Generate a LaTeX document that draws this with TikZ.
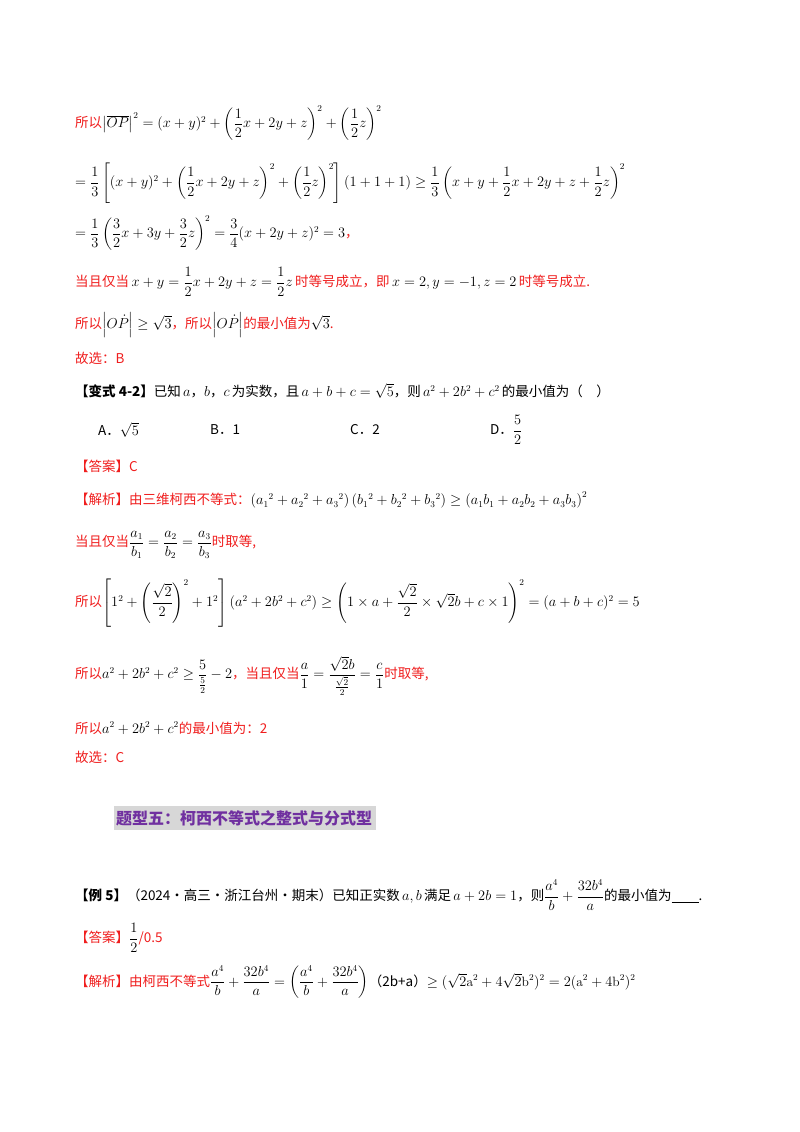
\documentclass[tikz,border=0pt]{standalone}
\usepackage{amsmath,amssymb}
\usepackage{fontspec}
\newfontfamily\cjk{Noto Sans CJK SC}
\definecolor{rd}{RGB}{240,30,30}
\definecolor{pur}{RGB}{112,48,160}
\definecolor{hbg}{RGB}{215,215,215}
\begin{document}
\begin{tikzpicture}[x=1pt,y=-1pt,
  ln/.style={anchor=west,inner sep=0pt,font=\fontsize{13.5}{15}\selectfont},
  r/.style={ln,text=rd}]
\useasboundingbox[fill=white] (0,0) rectangle (800,1132);
\node[r] (l1) at (75,123) {\cjk 所以\color{black}$\left|\overline{OP}\right|^2=(x+y)^2+\left(\dfrac12x+2y+z\right)^2+\left(\dfrac12z\right)^2$};
\node[ln] (l2) at (75,183) {$=\dfrac13\left[(x+y)^2+\left(\dfrac12x+2y+z\right)^2+\left(\dfrac12z\right)^2\right](1+1+1)\geq\dfrac13\left(x+y+\dfrac12x+2y+z+\dfrac12z\right)^2$};
\node[ln] (l3) at (75,233) {$=\dfrac13\left(\dfrac32x+3y+\dfrac32z\right)^2=\dfrac34(x+2y+z)^2=3$\textcolor{rd}{\cjk ，}};
\node[r] (l4) at (75,282) {\cjk 当且仅当\color{black}$\,x+y=\dfrac12x+2y+z=\dfrac12z\,$\color{rd}时等号成立，即\color{black}$\,x=2,y=-1,z=2\,$\color{rd}时等号成立.};
\node[r] (l5) at (75,325) {\cjk 所以\color{black}$\left|O\dot P\right|\geq\sqrt3$\color{rd}，所以\color{black}$\left|O\dot P\right|$\color{rd}的最小值为\color{black}$\sqrt3$\color{rd}.};
\node[r] (l6) at (75,358) {\cjk 故选：B};
\node[ln] (l7) at (75,391) {\cjk\textbf{【变式 4-2】}已知\,$a$，$b$，$c$\,为实数，且\,$a+b+c=\sqrt5$，则\,$a^2+2b^2+c^2$\,的最小值为（\quad）};
\node[ln] (oA) at (98,430) {\cjk A．$\sqrt5$};
\node[ln] (oB) at (210,430) {\cjk B．1};
\node[ln] (oC) at (350,430) {\cjk C．2};
\node[ln] (oD) at (490,430) {\cjk D．$\dfrac52$};
\node[r] (l8) at (75,466) {\cjk 【答案】C};
\node[r] (l9) at (75,500) {\cjk 【解析】由三维柯西不等式：\color{black}$\left(a_1{}^2+a_2{}^2+a_3{}^2\right)\left(b_1{}^2+b_2{}^2+b_3{}^2\right)\geq\left(a_1b_1+a_2b_2+a_3b_3\right)^2$};
\node[r] (l10) at (75,545) {\cjk 当且仅当\color{black}$\dfrac{a_1}{b_1}=\dfrac{a_2}{b_2}=\dfrac{a_3}{b_3}$\color{rd}时取等,};
\node[r] (l11) at (75,603) {\cjk 所以\color{black}$\left[1^2+\left(\dfrac{\sqrt2}{2}\right)^2+1^2\right]\left(a^2+2b^2+c^2\right)\geq\left(1\times a+\dfrac{\sqrt2}{2}\times\sqrt2b+c\times1\right)^2=(a+b+c)^2=5$};
\node[r] (l12) at (75,676) {\cjk 所以\color{black}$a^2+2b^2+c^2\geq\dfrac{5}{\frac52}-2$\color{rd}，当且仅当\color{black}$\dfrac a1=\dfrac{\sqrt2b}{\frac{\sqrt2}{2}}=\dfrac c1$\color{rd}时取等,};
\node[r] (l13) at (75,728) {\cjk 所以\color{black}$a^2+2b^2+c^2$\color{rd}的最小值为：2};
\node[r] (l14) at (75,757) {\cjk 故选：C};
\fill[hbg] (114,806) rectangle (376,830);
\node[ln,text=pur,font=\fontsize{16}{18}\selectfont\cjk\bfseries] (h) at (116,818) {题型五：柯西不等式之整式与分式型};
\node[ln] (l15) at (75,895) {\cjk\textbf{【例 5】}（2024·高三·浙江台州·期末）已知正实数\,$a,b$\,满足\,$a+2b=1$，则$\dfrac{a^4}{b}+\dfrac{32b^4}{a}$的最小值为\underline{\hspace{2em}}.};
\node[r] (l16) at (75,938) {\cjk 【答案】\color{black}$\dfrac12$\color{rd}/0.5};
\node[r] (l17) at (75,982) {\cjk 【解析】由柯西不等式\color{black}$\dfrac{a^4}{b}+\dfrac{32b^4}{a}=\left(\dfrac{a^4}{b}+\dfrac{32b^4}{a}\right)$（2b+a）$\geq(\sqrt2\mathrm{a}^2+4\sqrt2\mathrm{b}^2)^2=2(\mathrm{a}^2+4\mathrm{b}^2)^2$};
\end{tikzpicture}
\end{document}
